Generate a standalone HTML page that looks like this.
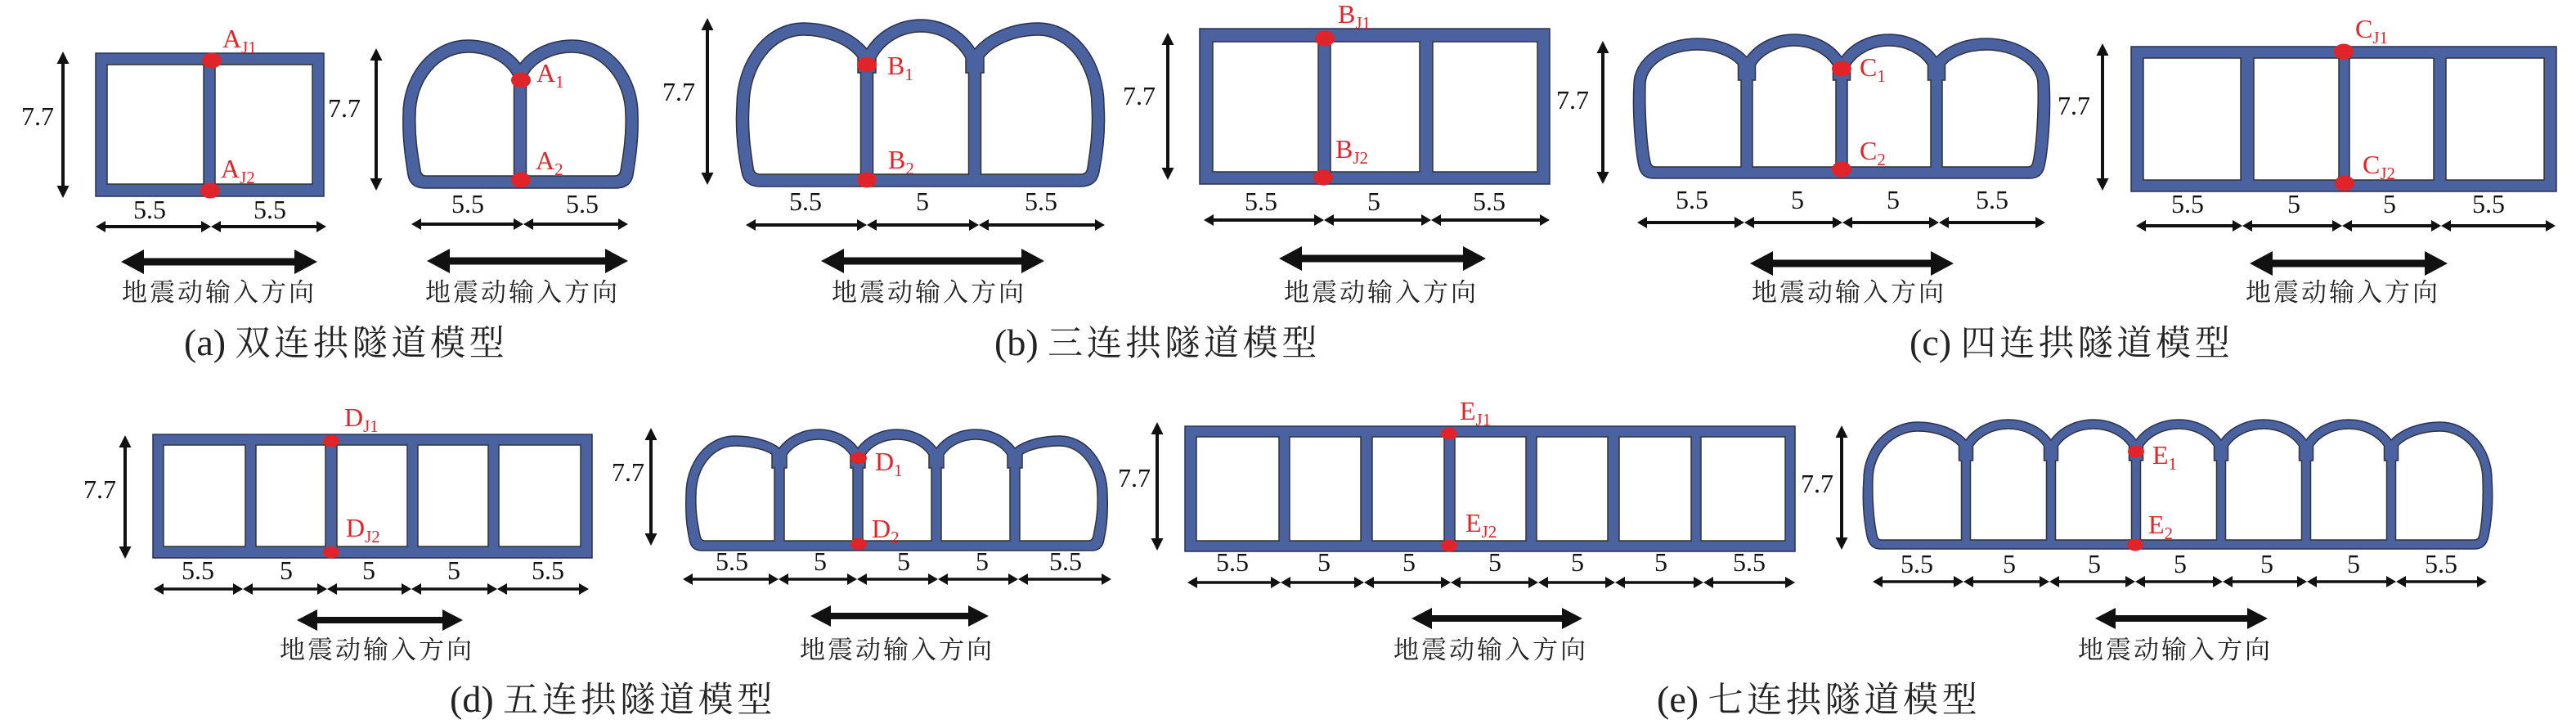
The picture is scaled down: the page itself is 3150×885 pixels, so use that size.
<!DOCTYPE html>
<html><head><meta charset="utf-8">
<style>
html,body{margin:0;padding:0;background:#fff;}
svg{display:block;}
.dim{font-family:"Liberation Serif",serif;font-size:32px;fill:#111;text-anchor:middle;}
.lab{font-family:"Liberation Serif",serif;font-size:32px;fill:#e0242a;}
.dir{font-family:"Liberation Serif","Noto Serif CJK SC",serif;font-size:31px;letter-spacing:3px;fill:#222;}
.cap{font-family:"Liberation Serif","Noto Serif CJK SC",serif;font-size:46px;fill:#222;}
.capc{font-size:43px;letter-spacing:4.7px;}
.blue{fill:#4a62a0;stroke:#2a3050;stroke-width:1.5;}
.wht{fill:#fff;stroke:#333;stroke-width:1.5;}
.dot{fill:#e0242a;}
.dl{stroke:#111;stroke-width:4;marker-start:url(#mh);marker-end:url(#mh);}
.dl2{stroke:#111;stroke-width:3.5;marker-start:url(#mh);marker-end:url(#mh);}
.vl{stroke:#111;stroke-width:4;marker-start:url(#mv);marker-end:url(#mv);}
.big{fill:#111;}
</style></head>
<body>
<svg width="3150" height="885" viewBox="0 0 3150 885" xmlns="http://www.w3.org/2000/svg">
<defs>
<marker id="mh" viewBox="0 0 12 14" refX="6" refY="7" markerWidth="12" markerHeight="14" markerUnits="userSpaceOnUse" orient="auto-start-reverse"><path d="M0,0 L12,7 L0,14 Z" fill="#111"/></marker>
<marker id="mv" viewBox="0 0 15 15" refX="7" refY="7.5" markerWidth="15" markerHeight="15" markerUnits="userSpaceOnUse" orient="auto-start-reverse"><path d="M0,0 L15,7.5 L0,15 Z" fill="#111"/></marker>
</defs>

<!-- ============ (a) rect ============ -->
<rect class="blue" x="117" y="65" width="279" height="175"/>
<rect class="wht" x="131" y="79" width="118" height="146"/>
<rect class="wht" x="263" y="79" width="119" height="146"/>
<ellipse class="dot" cx="259" cy="74" rx="12" ry="9.5"/>
<ellipse class="dot" cx="257" cy="233" rx="12" ry="9.5"/>
<text class="lab" x="272" y="58">A<tspan font-size="21" dy="7">J1</tspan></text>
<text class="lab" x="270" y="217">A<tspan font-size="21" dy="7">J2</tspan></text>
<line class="vl" x1="77" y1="71" x2="77" y2="234"/>
<text class="dim" x="46" y="153">7.7</text>
<text class="dim" x="183" y="267">5.5</text>
<text class="dim" x="330" y="267">5.5</text>
<line class="dl" x1="123" y1="277" x2="252" y2="277"/>
<line class="dl" x1="264" y1="277" x2="393" y2="277"/>
<polygon class="big" points="148,320 176,305 176,315.5 360,315.5 360,305 388,320 360,335 360,324.5 176,324.5 176,335"/>
<text class="dir" x="149" y="368">地震动输入方向</text>

<!-- ============ (a) arch ============ -->
<path class="blue" d="M 520 230 Q 502 230 499 214 C 496 195 492 170 493 140 A 79 91 0 0 1 572 49 A 75.3 61.3 0 0 1 636 78 A 75.3 61.3 0 0 1 700 49 A 80 91 0 0 1 780 140 C 781 170 777 195 774 214 Q 771 230 753 230 Z"/>
<path class="wht" d="M 508 140 A 64 76 0 0 1 572 64 A 60.3 46.3 0 0 1 628.5 94.1 L 628.5 215 L 521 215 Q 515 215 514 208 C 511 190 507 168 508 140 Z"/>
<path class="wht" d="M 643.5 215 L 643.5 94.1 A 60.3 46.3 0 0 1 700 64 A 65 76 0 0 1 765 140 C 766 168 762 190 759 208 Q 758 215 752 215 Z"/>
<ellipse class="dot" cx="637" cy="98" rx="12" ry="9.5"/>
<ellipse class="dot" cx="637" cy="220" rx="12" ry="9.5"/>
<text class="lab" x="656" y="100">A<tspan font-size="21" dy="7">1</tspan></text>
<text class="lab" x="655" y="207">A<tspan font-size="21" dy="7">2</tspan></text>
<line class="vl" x1="460" y1="67" x2="460" y2="225"/>
<text class="dim" x="421" y="143">7.7</text>
<text class="dim" x="572" y="260">5.5</text>
<text class="dim" x="712" y="260">5.5</text>
<line class="dl" x1="509" y1="274" x2="634" y2="274"/>
<line class="dl" x1="646" y1="274" x2="762" y2="274"/>
<polygon class="big" points="522,319 550,304 550,314.5 740,314.5 740,304 768,319 740,334 740,323.5 550,323.5 550,334"/>
<text class="dir" x="520" y="368">地震动输入方向</text>

<text class="cap" x="225" y="434">(a) <tspan class="capc">双连拱隧道模型</tspan></text>

<!-- ============ (b) arch ============ -->
<path class="blue" d="M 930 228 Q 910 228 907 210 C 903 190 899 160 901 129 A 81 101 0 0 1 982 28 A 91.8 67.7 0 0 1 1060 60 A 77.6 76.1 0 0 1 1126 24 A 77.6 76.1 0 0 1 1192 60 A 91.8 67.7 0 0 1 1270 28 A 80 101 0 0 1 1350 129 C 1352 160 1348 190 1344 210 Q 1341 228 1321 228 Z"/>
<path class="wht" d="M 916 129 A 66 86 0 0 1 982 43 A 76.8 52.7 0 0 1 1049 69.9 L 1049 89 L 1052.5 89 L 1052.5 213 L 929 213 Q 922 213 921 205 C 918 185 914 160 916 129 Z"/>
<path class="wht" d="M 1067.5 213 L 1067.5 89 L 1071 89 L 1071 70.9 A 62.6 61.1 0 0 1 1181 70.9 L 1181 89 L 1184.5 89 L 1184.5 213 Z"/>
<path class="wht" d="M 1199.5 213 L 1199.5 89 L 1203 89 L 1203 69.9 A 76.8 52.7 0 0 1 1270 43 A 65 86 0 0 1 1335 129 C 1337 160 1333 185 1330 205 Q 1329 213 1322 213 Z"/>
<ellipse class="dot" cx="1060" cy="79" rx="12" ry="9.5"/>
<ellipse class="dot" cx="1060" cy="220" rx="12" ry="9.5"/>
<text class="lab" x="1085" y="91">B<tspan font-size="21" dy="7">1</tspan></text>
<text class="lab" x="1086" y="206">B<tspan font-size="21" dy="7">2</tspan></text>
<line class="vl" x1="865" y1="30" x2="865" y2="218"/>
<text class="dim" x="830" y="123">7.7</text>
<text class="dim" x="985" y="257">5.5</text>
<text class="dim" x="1128" y="257">5</text>
<text class="dim" x="1273" y="257">5.5</text>
<line class="dl" x1="918" y1="275" x2="1054" y2="275"/>
<line class="dl" x1="1066" y1="275" x2="1191" y2="275"/>
<line class="dl" x1="1203" y1="275" x2="1345" y2="275"/>
<polygon class="big" points="1004,319 1032,304 1032,314.5 1249,314.5 1249,304 1277,319 1249,334 1249,323.5 1032,323.5 1032,334"/>
<text class="dir" x="1017" y="368">地震动输入方向</text>

<!-- ============ (b) rect ============ -->
<rect class="blue" x="1467" y="35" width="428" height="190"/>
<rect class="wht" x="1483" y="51" width="129" height="159"/>
<rect class="wht" x="1627" y="51" width="109" height="159"/>
<rect class="wht" x="1752" y="51" width="128" height="159"/>
<ellipse class="dot" cx="1620" cy="47" rx="12" ry="9.5"/>
<ellipse class="dot" cx="1618" cy="217" rx="12" ry="9.5"/>
<text class="lab" x="1636" y="28">B<tspan font-size="21" dy="7">J1</tspan></text>
<text class="lab" x="1633" y="193">B<tspan font-size="21" dy="7">J2</tspan></text>
<line class="vl" x1="1428" y1="48" x2="1428" y2="212"/>
<text class="dim" x="1393" y="128">7.7</text>
<text class="dim" x="1542" y="257">5.5</text>
<text class="dim" x="1680" y="257">5</text>
<text class="dim" x="1821" y="257">5.5</text>
<line class="dl" x1="1478" y1="269" x2="1613" y2="269"/>
<line class="dl" x1="1625" y1="269" x2="1744" y2="269"/>
<line class="dl" x1="1756" y1="269" x2="1889" y2="269"/>
<polygon class="big" points="1564,316 1592,301 1592,311.5 1789,311.5 1789,301 1817,316 1789,331 1789,320.5 1592,320.5 1592,331"/>
<text class="dir" x="1570" y="368">地震动输入方向</text>

<text class="cap" x="1216" y="434">(b) <tspan class="capc">三连拱隧道模型</tspan></text>

<!-- ============ (c) arch ============ -->
<path class="blue" d="M 2022 218 Q 2007 218 2004 203 C 2000 185 1996 140 1998 103 A 78 56 0 0 1 2076 47 A 70.6 48.6 0 0 1 2136 70 A 68.2 59.2 0 0 1 2194 42 A 68.2 59.2 0 0 1 2252 70 A 68.2 59.2 0 0 1 2310 42 A 68.2 59.2 0 0 1 2368 70 A 71.8 48.6 0 0 1 2429 47 A 77 56 0 0 1 2506 103 C 2508 140 2504 185 2500 203 Q 2497 218 2482 218 Z"/>
<path class="wht" d="M 2012 103 A 64 42 0 0 1 2076 61 A 56.6 34.6 0 0 1 2125.5 78.8 L 2125.5 98 L 2129 98 L 2129 204 L 2024 204 Q 2019 204 2018 198 C 2014 180 2011 140 2012 103 Z"/>
<path class="wht" d="M 2143 204 L 2143 98 L 2146.5 98 L 2146.5 79.4 A 54.2 45.2 0 0 1 2241.5 79.4 L 2241.5 98 L 2245 98 L 2245 204 Z"/>
<path class="wht" d="M 2259 204 L 2259 98 L 2262.5 98 L 2262.5 79.4 A 54.2 45.2 0 0 1 2357.5 79.4 L 2357.5 98 L 2361 98 L 2361 204 Z"/>
<path class="wht" d="M 2375 204 L 2375 98 L 2378.5 98 L 2378.5 78.8 A 57.8 34.6 0 0 1 2429 61 A 63 42 0 0 1 2492 103 C 2493 140 2490 180 2486 198 Q 2485 204 2480 204 Z"/>
<ellipse class="dot" cx="2252" cy="84" rx="12" ry="9.5"/>
<ellipse class="dot" cx="2252" cy="207" rx="12" ry="9.5"/>
<text class="lab" x="2274" y="93">C<tspan font-size="21" dy="7">1</tspan></text>
<text class="lab" x="2274" y="195">C<tspan font-size="21" dy="7">2</tspan></text>
<line class="vl" x1="1960" y1="58" x2="1960" y2="217"/>
<text class="dim" x="1923" y="133">7.7</text>
<text class="dim" x="2069" y="255">5.5</text>
<text class="dim" x="2198" y="255">5</text>
<text class="dim" x="2315" y="255">5</text>
<text class="dim" x="2436" y="255">5.5</text>
<line class="dl" x1="2008" y1="272" x2="2127" y2="272"/>
<line class="dl" x1="2139" y1="272" x2="2247" y2="272"/>
<line class="dl" x1="2259" y1="272" x2="2365" y2="272"/>
<line class="dl" x1="2377" y1="272" x2="2495" y2="272"/>
<polygon class="big" points="2140,322 2168,307 2168,317.5 2361,317.5 2361,307 2389,322 2361,337 2361,326.5 2168,326.5 2168,337"/>
<text class="dir" x="2142" y="368">地震动输入方向</text>

<!-- ============ (c) rect ============ -->
<rect class="blue" x="2606" y="57" width="520" height="177"/>
<rect class="wht" x="2621" y="71" width="119" height="149"/>
<rect class="wht" x="2756" y="71" width="104" height="149"/>
<rect class="wht" x="2873" y="71" width="103" height="149"/>
<rect class="wht" x="2991" y="71" width="120" height="149"/>
<ellipse class="dot" cx="2866" cy="63" rx="12" ry="9.5"/>
<ellipse class="dot" cx="2867" cy="224" rx="12" ry="9.5"/>
<text class="lab" x="2880" y="46">C<tspan font-size="21" dy="7">J1</tspan></text>
<text class="lab" x="2889" y="212">C<tspan font-size="21" dy="7">J2</tspan></text>
<line class="vl" x1="2571" y1="61" x2="2571" y2="225"/>
<text class="dim" x="2536" y="140">7.7</text>
<text class="dim" x="2675" y="260">5.5</text>
<text class="dim" x="2805" y="260">5</text>
<text class="dim" x="2922" y="260">5</text>
<text class="dim" x="3043" y="260">5.5</text>
<line class="dl" x1="2618" y1="276" x2="2736" y2="276"/>
<line class="dl" x1="2748" y1="276" x2="2858" y2="276"/>
<line class="dl" x1="2870" y1="276" x2="2979" y2="276"/>
<line class="dl" x1="2991" y1="276" x2="3119" y2="276"/>
<polygon class="big" points="2751,322 2779,307 2779,317.5 2965,317.5 2965,307 2993,322 2965,337 2965,326.5 2779,326.5 2779,337"/>
<text class="dir" x="2746" y="368">地震动输入方向</text>

<text class="cap" x="2335" y="434">(c) <tspan class="capc">四连拱隧道模型</tspan></text>

<!-- ============ (d) rect ============ -->
<rect class="blue" x="187" y="531" width="537" height="151"/>
<rect class="wht" x="200" y="544" width="100" height="124"/>
<rect class="wht" x="313" y="544" width="85" height="124"/>
<rect class="wht" x="412" y="544" width="86" height="124"/>
<rect class="wht" x="511" y="544" width="86" height="124"/>
<rect class="wht" x="610" y="544" width="100" height="124"/>
<ellipse class="dot" cx="405" cy="539" rx="10" ry="7.5"/>
<ellipse class="dot" cx="405" cy="675" rx="10" ry="7.5"/>
<text class="lab" x="421" y="521">D<tspan font-size="21" dy="7">J1</tspan></text>
<text class="lab" x="423" y="656">D<tspan font-size="21" dy="7">J2</tspan></text>
<line class="vl" x1="153" y1="540" x2="153" y2="675"/>
<text class="dim" x="122" y="609">7.7</text>
<text class="dim" x="242" y="708">5.5</text>
<text class="dim" x="350" y="708">5</text>
<text class="dim" x="451" y="708">5</text>
<text class="dim" x="555" y="708">5</text>
<text class="dim" x="670" y="708">5.5</text>
<line class="dl2" x1="194" y1="720" x2="291" y2="720"/>
<line class="dl2" x1="303" y1="720" x2="394" y2="720"/>
<line class="dl2" x1="406" y1="720" x2="497" y2="720"/>
<line class="dl2" x1="509" y1="720" x2="602" y2="720"/>
<line class="dl2" x1="614" y1="720" x2="714" y2="720"/>
<polygon class="big" points="363,758 388,745 388,754 541,754 541,745 566,758 541,771 541,762 388,762 388,771"/>
<text class="dir" x="342" y="805">地震动输入方向</text>

<!-- ============ (d) arch ============ -->
<path class="blue" d="M 858 673 Q 845 673 843 659 C 840 645 838 630 839 604 A 59 71 0 0 1 898 533 A 64.7 31.7 0 0 1 953 548 A 56.5 48.6 0 0 1 1001 525 A 56.5 48.6 0 0 1 1049 548 A 56.5 48.6 0 0 1 1097 525 A 56.5 48.6 0 0 1 1145 548 A 56.5 48.6 0 0 1 1193 525 A 56.5 48.6 0 0 1 1241 548 A 64.7 31.7 0 0 1 1296 533 A 58 71 0 0 1 1354 604 C 1355 630 1353 645 1350 659 Q 1348 673 1335 673 Z"/>
<path class="wht" d="M 851 604 A 47 59 0 0 1 898 545 A 52.7 19.7 0 0 1 944 555.1 L 944 572 L 947 572 L 947 661 L 862 661 Q 857 661 856 655 C 853 640 850 625 851 604 Z"/>
<path class="wht" d="M 959 661 L 959 572 L 962 572 L 962 556 A 44.5 36.6 0 0 1 1040 556 L 1040 572 L 1043 572 L 1043 661 Z"/>
<path class="wht" d="M 1055 661 L 1055 572 L 1058 572 L 1058 556 A 44.5 36.6 0 0 1 1136 556 L 1136 572 L 1139 572 L 1139 661 Z"/>
<path class="wht" d="M 1151 661 L 1151 572 L 1154 572 L 1154 556 A 44.5 36.6 0 0 1 1232 556 L 1232 572 L 1235 572 L 1235 661 Z"/>
<path class="wht" d="M 1247 661 L 1247 572 L 1250 572 L 1250 555.1 A 52.7 19.7 0 0 1 1296 545 A 46 59 0 0 1 1342 604 C 1343 625 1340 640 1337 655 Q 1336 661 1331 661 Z"/>
<ellipse class="dot" cx="1050" cy="560" rx="10" ry="7.5"/>
<ellipse class="dot" cx="1050" cy="665" rx="10" ry="7.5"/>
<text class="lab" x="1070" y="575">D<tspan font-size="21" dy="7">1</tspan></text>
<text class="lab" x="1066" y="657">D<tspan font-size="21" dy="7">2</tspan></text>
<line class="vl" x1="796" y1="531" x2="796" y2="659"/>
<text class="dim" x="768" y="588">7.7</text>
<text class="dim" x="895" y="697">5.5</text>
<text class="dim" x="1003" y="697">5</text>
<text class="dim" x="1105" y="697">5</text>
<text class="dim" x="1201" y="697">5</text>
<text class="dim" x="1303" y="697">5.5</text>
<line class="dl2" x1="841" y1="708" x2="946" y2="708"/>
<line class="dl2" x1="958" y1="708" x2="1042" y2="708"/>
<line class="dl2" x1="1054" y1="708" x2="1141" y2="708"/>
<line class="dl2" x1="1153" y1="708" x2="1239" y2="708"/>
<line class="dl2" x1="1251" y1="708" x2="1353" y2="708"/>
<polygon class="big" points="991,753 1016,740 1016,749 1184,749 1184,740 1209,753 1184,766 1184,757 1016,757 1016,766"/>
<text class="dir" x="978" y="805">地震动输入方向</text>

<text class="cap" x="550" y="870">(d) <tspan class="capc">五连拱隧道模型</tspan></text>

<!-- ============ (e) rect ============ -->
<rect class="blue" x="1449" y="521" width="746" height="153"/>
<rect class="wht" x="1463" y="534" width="101" height="127"/>
<rect class="wht" x="1577" y="534" width="87" height="127"/>
<rect class="wht" x="1678" y="534" width="88" height="127"/>
<rect class="wht" x="1779" y="534" width="87" height="127"/>
<rect class="wht" x="1879" y="534" width="87" height="127"/>
<rect class="wht" x="1980" y="534" width="88" height="127"/>
<rect class="wht" x="2080" y="534" width="103" height="127"/>
<ellipse class="dot" cx="1772" cy="530" rx="10" ry="7.5"/>
<ellipse class="dot" cx="1772" cy="667" rx="10" ry="7.5"/>
<text class="lab" x="1785" y="513">E<tspan font-size="21" dy="7">J1</tspan></text>
<text class="lab" x="1792" y="650">E<tspan font-size="21" dy="7">J2</tspan></text>
<line class="vl" x1="1415" y1="524" x2="1415" y2="665"/>
<text class="dim" x="1387" y="595">7.7</text>
<text class="dim" x="1507" y="698">5.5</text>
<text class="dim" x="1619" y="698">5</text>
<text class="dim" x="1723" y="698">5</text>
<text class="dim" x="1828" y="698">5</text>
<text class="dim" x="1929" y="698">5</text>
<text class="dim" x="2031" y="698">5</text>
<text class="dim" x="2139" y="698">5.5</text>
<line class="dl2" x1="1458" y1="712" x2="1560" y2="712"/>
<line class="dl2" x1="1572" y1="712" x2="1662" y2="712"/>
<line class="dl2" x1="1674" y1="712" x2="1768" y2="712"/>
<line class="dl2" x1="1780" y1="712" x2="1875" y2="712"/>
<line class="dl2" x1="1887" y1="712" x2="1969" y2="712"/>
<line class="dl2" x1="1981" y1="712" x2="2077" y2="712"/>
<line class="dl2" x1="2089" y1="712" x2="2189" y2="712"/>
<polygon class="big" points="1726,756 1751,743 1751,752 1910,752 1910,743 1935,756 1910,769 1910,760 1751,760 1751,769"/>
<text class="dir" x="1704" y="805">地震动输入方向</text>

<!-- ============ (e) arch ============ -->
<path class="blue" d="M 2300 671 Q 2286 671 2283 655 C 2280 640 2277 615 2279 586 A 66 70 0 0 1 2345 516 A 69.4 46.5 0 0 1 2404 538 A 61.2 52.9 0 0 1 2456 513 A 61.2 52.9 0 0 1 2508 538 A 61.2 52.9 0 0 1 2560 513 A 61.2 52.9 0 0 1 2612 538 A 61.2 52.9 0 0 1 2664 513 A 61.2 52.9 0 0 1 2716 538 A 61.2 52.9 0 0 1 2768 513 A 61.2 52.9 0 0 1 2820 538 A 61.2 52.9 0 0 1 2872 513 A 61.2 52.9 0 0 1 2924 538 A 70.6 46.5 0 0 1 2984 516 A 63 70 0 0 1 3047 586 C 3049 615 3046 640 3043 655 Q 3040 671 3026 671 Z"/>
<path class="wht" d="M 2290 586 A 55 59 0 0 1 2345 527 A 58.4 35.5 0 0 1 2395.5 544.7 L 2395.5 563 L 2398.5 563 L 2398.5 660 L 2300 660 Q 2296 660 2295 654 C 2292 640 2289 615 2290 586 Z"/>
<path class="wht" d="M 2409.5 660 L 2409.5 563 L 2412.5 563 L 2412.5 545 A 50.2 41.9 0 0 1 2499.5 545 L 2499.5 563 L 2502.5 563 L 2502.5 660 Z"/>
<path class="wht" d="M 2513.5 660 L 2513.5 563 L 2516.5 563 L 2516.5 545 A 50.2 41.9 0 0 1 2603.5 545 L 2603.5 563 L 2606.5 563 L 2606.5 660 Z"/>
<path class="wht" d="M 2617.5 660 L 2617.5 563 L 2620.5 563 L 2620.5 545 A 50.2 41.9 0 0 1 2707.5 545 L 2707.5 563 L 2710.5 563 L 2710.5 660 Z"/>
<path class="wht" d="M 2721.5 660 L 2721.5 563 L 2724.5 563 L 2724.5 545 A 50.2 41.9 0 0 1 2811.5 545 L 2811.5 563 L 2814.5 563 L 2814.5 660 Z"/>
<path class="wht" d="M 2825.5 660 L 2825.5 563 L 2828.5 563 L 2828.5 545 A 50.2 41.9 0 0 1 2915.5 545 L 2915.5 563 L 2918.5 563 L 2918.5 660 Z"/>
<path class="wht" d="M 2929.5 660 L 2929.5 563 L 2932.5 563 L 2932.5 544.6 A 59.6 35.5 0 0 1 2984 527 A 52 59 0 0 1 3036 586 C 3037 615 3035 640 3032 654 Q 3031 660 3026 660 Z"/>
<ellipse class="dot" cx="2612" cy="552" rx="10" ry="7.5"/>
<ellipse class="dot" cx="2611" cy="666" rx="10" ry="7.5"/>
<text class="lab" x="2632" y="567">E<tspan font-size="21" dy="7">1</tspan></text>
<text class="lab" x="2627" y="652">E<tspan font-size="21" dy="7">2</tspan></text>
<line class="vl" x1="2252" y1="528" x2="2252" y2="664"/>
<text class="dim" x="2222" y="602">7.7</text>
<text class="dim" x="2344" y="700">5.5</text>
<text class="dim" x="2457" y="700">5</text>
<text class="dim" x="2561" y="700">5</text>
<text class="dim" x="2666" y="700">5</text>
<text class="dim" x="2772" y="700">5</text>
<text class="dim" x="2878" y="700">5</text>
<text class="dim" x="2985" y="700">5.5</text>
<line class="dl2" x1="2296" y1="711" x2="2395" y2="711"/>
<line class="dl2" x1="2407" y1="711" x2="2500" y2="711"/>
<line class="dl2" x1="2512" y1="711" x2="2605" y2="711"/>
<line class="dl2" x1="2617" y1="711" x2="2712" y2="711"/>
<line class="dl2" x1="2724" y1="711" x2="2815" y2="711"/>
<line class="dl2" x1="2827" y1="711" x2="2924" y2="711"/>
<line class="dl2" x1="2936" y1="711" x2="3035" y2="711"/>
<polygon class="big" points="2562,756 2587,743 2587,752 2748,752 2748,743 2773,756 2748,769 2748,760 2587,760 2587,769"/>
<text class="dir" x="2541" y="805">地震动输入方向</text>

<text class="cap" x="2026" y="870">(e) <tspan class="capc">七连拱隧道模型</tspan></text>
</svg>
</body></html>
